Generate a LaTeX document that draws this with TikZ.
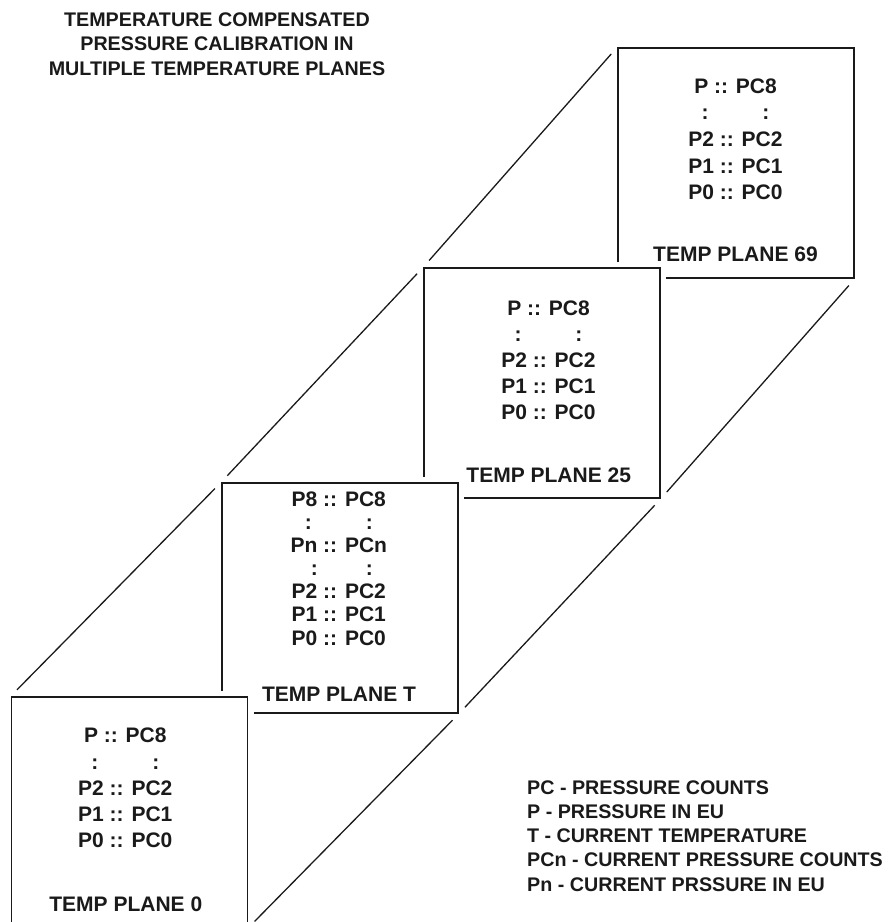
\documentclass[tikz,border=0pt]{standalone}
\usepackage{fontspec}
\setmainfont{Liberation Sans}
\usetikzlibrary{positioning}
\definecolor{ink}{HTML}{1A1A1A}
\tikzset{plane/.style={rectangle,draw=ink,line width=1.6pt,fill=white,
    minimum width=236pt,minimum height=230pt,inner sep=0pt,
    preaction={draw=white,line width=12pt}},
  row/.style={anchor=base,inner sep=0pt,text=ink,font=\bfseries\fontsize{21}{21}\selectfont},
  note/.style={inner sep=0pt,text=ink,font=\bfseries\fontsize{19.7}{19.7}\selectfont},
  rail/.style={draw=ink,line width=1.3pt,shorten <=9pt,shorten >=9pt}}

\begin{document}
\begin{tikzpicture}[x=1pt,y=-1pt]
\useasboundingbox (0,0) rectangle (890,922);
\clip (0,0) rectangle (890,922);
% title
\foreach \t [count=\i from 0] in {TEMPERATURE COMPENSATED,PRESSURE CALIBRATION IN,MULTIPLE TEMPERATURE PLANES}
  \node[note,anchor=base] (title-\i) at (217,{26.7+24.2*\i}) {\t};
% temperature planes, back to front
\node[plane] (p69) at (736,163) {};
\node[plane] (p25) at (542,383) {};
\node[plane] (pT) at (340,598) {};
\node[plane] (p0) at (129.5,812) {};
\foreach \a/\b in {p0/pT,pT/p25,p25/p69}{
  \draw[rail] (\a.north west) -- (\b.north west);
  \draw[rail] (\a.south east) -- (\b.south east);
}
% plane 69
\foreach \t [count=\i from 0] in {P :: PC8,{:\hspace{54pt}:},P2 :: PC2,P1 :: PC1,P0 :: PC0}
  \node[row] (r69-\i) at (735.5,{93.3+26.6*\i}) {\t};
\node[row] (l69) at (735.5,261.7) {TEMP PLANE 69};
% plane 25
\foreach \t [count=\i from 0] in {P :: PC8,{:\hspace{54pt}:},P2 :: PC2,P1 :: PC1,P0 :: PC0}
  \node[row] (r25-\i) at (548.5,{315+26.1*\i}) {\t};
\node[row] (l25) at (548.7,482.7) {TEMP PLANE 25};
% plane T
\foreach \t [count=\i from 0] in {P8 :: PC8,{:\hspace{54pt}:},Pn :: PCn,{\hspace{6pt}:\hspace{48pt}:},P2 :: PC2,P1 :: PC1,P0 :: PC0}
  \node[row] (rT-\i) at (338.8,{506.7+23.05*\i}) {\t};
\node[row] (lT) at (339,701) {TEMP PLANE T};
% plane 0
\foreach \t [count=\i from 0] in {P :: PC8,{:\hspace{54pt}:},P2 :: PC2,P1 :: PC1,P0 :: PC0}
  \node[row] (r0-\i) at (125.3,{742.7+26.3*\i}) {\t};
\node[row] (l0) at (125.8,911) {TEMP PLANE 0};
% legend
\foreach \t [count=\i from 0] in {PC - PRESSURE COUNTS,P - PRESSURE IN EU,T - CURRENT TEMPERATURE,PCn - CURRENT PRESSURE COUNTS,Pn - CURRENT PRSSURE IN EU}
  \node[note,anchor=base west] (key-\i) at (527,{794.3+24.2*\i}) {\t};
\end{tikzpicture}
\end{document}
